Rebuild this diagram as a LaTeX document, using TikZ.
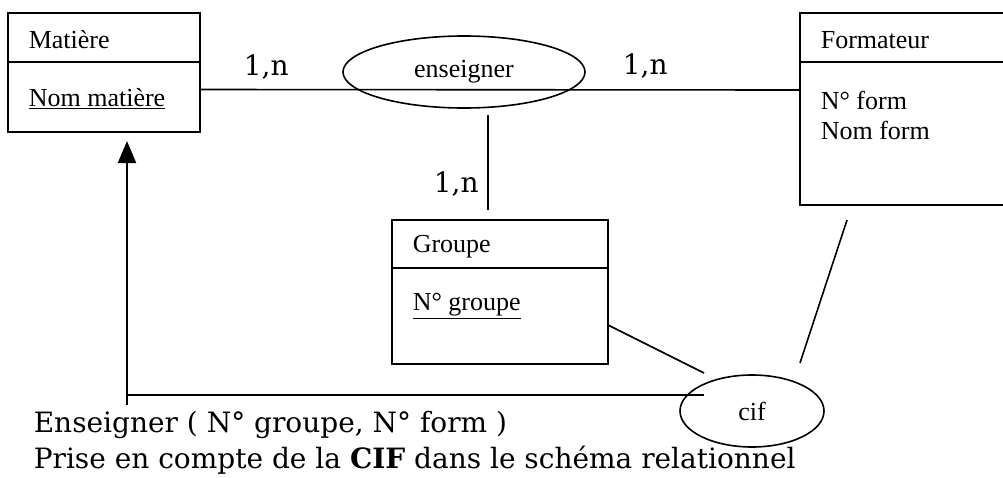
\documentclass[tikz,border=0pt]{standalone}
\usepackage{fontspec}
\setmainfont{Liberation Serif}
\newfontfamily\legendfont{DejaVu Serif}
\usetikzlibrary{arrows.meta,shapes.geometric}

\begin{document}
\begin{tikzpicture}[x=1pt, y=-1pt, >={Triangle[length=22pt,width=18pt]}, line width=1.6pt,
    entity/.style={draw, line width=2pt, inner sep=0pt},
    assoc/.style={draw, ellipse, line width=1.6pt, inner sep=0pt,
        font=\fontsize{26}{31}\selectfont},
    attr/.style={anchor=west, inner sep=0pt, font=\fontsize{26}{31}\selectfont},
    card/.style={anchor=base west, inner sep=0pt, font=\legendfont\fontsize{28}{34}\selectfont}]

    \useasboundingbox (0,0) rectangle (1003,477);

    % 1. Entités (rectangles)
    \node[entity, minimum width=192pt, minimum height=119pt] (matiere)   at (104,72.5) {};
    \node[entity, minimum width=214pt, minimum height=192pt] (formateur) at (907,109) {};
    \node[entity, minimum width=216pt, minimum height=144pt] (groupe)    at (500,292) {};

    % séparateurs titre / attributs
    \draw[line width=2pt] ([yshift=-50pt]matiere.north west) -- ([yshift=-50pt]matiere.north east);
    \draw[line width=2pt] ([yshift=-50pt]formateur.north west) -- ([yshift=-50pt]formateur.north east);
    \draw[line width=2pt] ([yshift=-49pt]groupe.north west) -- ([yshift=-49pt]groupe.north east);

    % titres et attributs
    \node[attr] (mtitle) at (28,40)  {Matière};
    \node[attr] (mkey)   at (28,99)  {\underline{Nom matière}};
    \node[attr] (ftitle) at (820,40) {Formateur};
    \node[attr] (fnum)   at (820,100) {N° form};
    \node[attr] (fnom)   at (820,130) {Nom form};
    \node[attr] (gtitle) at (412,247) {Groupe};
    \node[attr] (gkey)   at (412,306) {\underline{N° groupe}};

    % 2. Associations (ellipses)
    \node[assoc, minimum width=242pt, minimum height=72pt] (enseigner) at (464,72) {enseigner};
    \node[assoc, minimum width=144pt, minimum height=72pt] (cif)       at (752,411) {cif};

    % 3. Liens
    \draw ([yshift=-17pt]matiere.east) -- ([yshift=19pt]formateur.west);
    \coordinate (e1) at (488,115);
    \coordinate (g1) at (488,210);
    \draw (e1) -- (g1);
    \coordinate (g2) at (608,325);
    \coordinate (c1) at (704,373);
    \draw (g2) -- (c1);
    \coordinate (f1) at (847,220);
    \coordinate (c2) at (800,363);
    \draw (f1) -- (c2);

    % 4. Flèche de la CIF vers Matière
    \coordinate (c3) at (704,395);
    \coordinate (coin) at (127,395);
    \coordinate (bas) at (127,405);
    \draw[line width=2pt] (c3) -- (coin);
    \draw[->, line width=2pt] (bas) -- ([xshift=23pt,yshift=-8pt]matiere.south);

    % 5. Cardinalités
    \node[card] (card1) at (243,75)  {1,n};
    \node[card] (card2) at (622,74)  {1,n};
    \node[card] (card3) at (433,192) {1,n};

    % 6. Texte du bas
    \node[card] (rel)  at (33,432) {Enseigner ( N° groupe, N° form )};
    \node[card] (note) at (33,468) {Prise en compte de la \textbf{CIF} dans le schéma relationnel};

\end{tikzpicture}
\end{document}
